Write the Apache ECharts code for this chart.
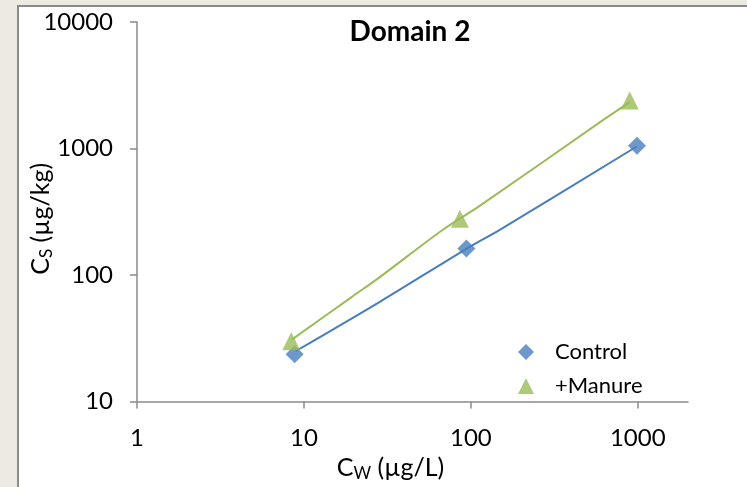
<!DOCTYPE html>
<html>
<head>
<meta charset="utf-8">
<script src="https://cdn.jsdelivr.net/npm/echarts@6/dist/echarts.min.js"></script>
<style>
  html, body { margin: 0; padding: 0; }
  #chart { width: 747px; height: 487px; }
</style>
</head>
<body>
<div id="chart"></div>
<script>
// measured points
const controlPoints = [[8.8, 23.7], [94, 162], [990, 1050]];
const manurePoints = [[8.4, 30], [86, 279], [895, 2400]];

// fitted curves
const controlCurve = [[8.9, 25], [28.5, 61.5], [94.6, 162], [149, 228], [986, 1038]];
const manureCurve = [[8.5, 31], [19.4, 67.3], [28.5, 96.4], [68, 228], [113, 352], [634, 1714], [896, 2328]];

const xTicks = [1, 10, 100, 1000];

const font = 'Lato, "Noto Sans", sans-serif';

document.addEventListener('DOMContentLoaded', () => {
    const chart = echarts.init(document.getElementById('chart'));

    const plain = v => String(Math.round(v));

    chart.setOption({
        backgroundColor: '#edeae1',
        textStyle: { fontFamily: font },
        animation: false,
        graphic: [{
            type: 'rect',
            left: 17,
            top: 5,
            z: -10,
            shape: { width: 740, height: 500 },
            style: { fill: '#ffffff', stroke: '#8a8a8a', lineWidth: 2 }
        }],
        title: {
            text: 'Domain 2',
            left: 405,
            top: 13,
            textAlign: 'center',
            textStyle: { fontFamily: font, fontSize: 28, fontWeight: 'bold', color: '#000' }
        },
        legend: {
            orient: 'vertical',
            left: 513,
            top: 336,
            itemGap: 12,
            itemWidth: 16,
            itemHeight: 16,
            data: [
                { name: 'Control', icon: 'diamond' },
                { name: '+Manure', icon: 'triangle' }
            ],
            textStyle: { fontFamily: font, fontSize: 22, color: '#000', padding: [0, 0, 0, 16] }
        },
        grid: { left: 137, right: 59, top: 22, bottom: 81 },
        xAxis: {
            type: 'log',
            min: 1,
            max: 2000,
            name: '{a|C}{s|W}{a| (µg/L)}',
            nameLocation: 'middle',
            nameGap: 48,
            nameTextStyle: {
                padding: [0, 44, 0, 0],
                rich: {
                    a: { fontFamily: font, fontSize: 25, color: '#000' },
                    s: { fontFamily: font, fontSize: 17, color: '#000', verticalAlign: 'bottom', padding: [11, 0, 0, 0] }
                }
            },
            axisLine: { lineStyle: { color: '#8c8c8c', width: 1.5 } },
            axisTick: { inside: false, length: 7, customValues: xTicks, lineStyle: { color: '#8c8c8c', width: 1.5 } },
            axisLabel: { customValues: xTicks, formatter: plain, margin: 25, fontFamily: font, fontSize: 24, color: '#000' },
            minorTick: { show: false },
            splitLine: { show: false }
        },
        yAxis: {
            type: 'log',
            min: 10,
            max: 10000,
            name: '{a|C}{s|S}{a| (µg/kg)}',
            nameLocation: 'middle',
            nameGap: 82,
            nameMoveOverlap: false,
            nameTextStyle: {
                padding: [0, 14, 0, 0],
                rich: {
                    a: { fontFamily: font, fontSize: 25, color: '#000' },
                    s: { fontFamily: font, fontSize: 17, color: '#000', verticalAlign: 'bottom', padding: [11, 0, 0, 0] }
                }
            },
            axisLine: { show: true, lineStyle: { color: '#8c8c8c', width: 1.5 } },
            axisTick: { show: true, inside: false, length: 7, lineStyle: { color: '#8c8c8c', width: 1.5 } },
            axisLabel: { formatter: plain, margin: 24, fontFamily: font, fontSize: 24, color: '#000' },
            splitLine: { show: false }
        },
        series: [
            {
                name: 'Control fit',
                type: 'line',
                data: controlCurve,
                showSymbol: false,
                symbol: 'none',
                smooth: 0.3,
                lineStyle: { color: '#4a7ebb', width: 2 },
                z: 2
            },
            {
                name: '+Manure fit',
                type: 'line',
                data: manureCurve,
                showSymbol: false,
                symbol: 'none',
                smooth: 0.3,
                lineStyle: { color: '#9bbb59', width: 2 },
                z: 2
            },
            {
                name: 'Control',
                type: 'scatter',
                data: controlPoints,
                symbol: 'diamond',
                symbolSize: 18,
                itemStyle: { color: '#4a7ebb' },
                z: 3
            },
            {
                name: '+Manure',
                type: 'scatter',
                data: manurePoints,
                symbol: 'triangle',
                symbolSize: 18,
                itemStyle: { color: '#9bbb59' },
                z: 3
            }
        ]
    });

    window.addEventListener('resize', () => chart.resize());
});
</script>
</body>
</html>
